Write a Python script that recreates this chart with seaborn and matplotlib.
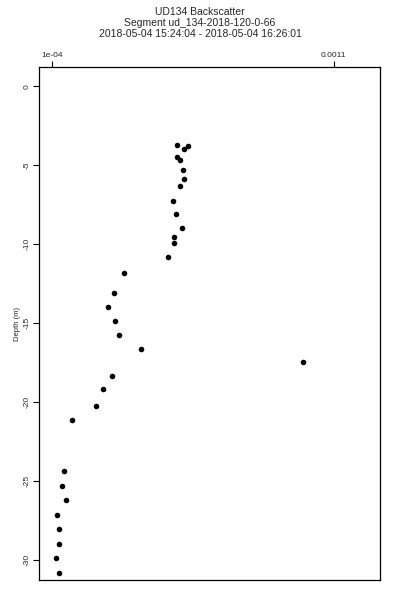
import numpy as np
import pandas as pd
import matplotlib
matplotlib.use("Agg")
import matplotlib.pyplot as plt
import seaborn as sns

# Backscatter values, with depth (m)
backscatter = [0.000545, 0.000582, 0.000570, 0.000545, 0.000554, 0.000567, 0.000570,
               0.000556, 0.000531, 0.000540, 0.000561, 0.000535, 0.000534, 0.000513,
               0.000355, 0.000322, 0.000300, 0.000326, 0.000340, 0.000416, 0.000990,
               0.000313, 0.000282, 0.000257, 0.000170, 0.000143, 0.000135, 0.000150,
               0.000120, 0.000126, 0.000127, 0.000115, 0.000127]
depth = [-3.72, -3.76, -3.95, -4.46, -4.65, -5.30, -5.85,
         -6.31, -7.24, -8.10, -8.99, -9.56, -9.90, -10.78,
         -11.84, -13.08, -13.99, -14.87, -15.72, -16.61, -17.47,
         -18.32, -19.18, -20.25, -21.12, -24.37, -25.28, -26.20,
         -27.13, -28.04, -28.97, -29.87, -30.80]
x_ticks = [1e-04, 0.0011]
x_tick_labels = ["1e-04", "0.0011"]
y_ticks = [0, -5, -10, -15, -20, -25, -30]
title_lines = ["UD134 Backscatter", "Segment ud_134-2018-120-0-66",
               "2018-05-04 15:24:04 - 2018-05-04 16:26:01"]

frame = pd.DataFrame({"backscatter": backscatter, "depth": depth})

sns.set_theme(style="white")
plt.rcParams["font.family"] = ["Liberation Sans", "DejaVu Sans"]

fig = plt.figure(figsize=(4, 6), dpi=100)
ax = fig.add_axes([0.097, 0.033, 0.852, 0.855])

sns.scatterplot(x="backscatter", y="depth", data=frame, color="black",
                s=16, edgecolor="black", linewidth=0, ax=ax)

ax.set_xlim(5.39e-05, 0.001263)
ax.set_ylim(-31.27, 1.22)

# x axis drawn on top, as in the original
ax.xaxis.tick_top()
ax.set_xticks(x_ticks)
ax.set_xticklabels(x_tick_labels)
ax.set_yticks(y_ticks)
ax.set_yticklabels([str(t) for t in y_ticks], rotation=90, va="center")
ax.tick_params(axis="both", direction="out", length=4, width=0.8, color="black",
               labelsize=6, pad=2, top=True, bottom=False, left=True)
ax.set_xlabel("")
ax.set_ylabel("Depth (m)", fontsize=5.5, labelpad=2)

for spine in ax.spines.values():
    spine.set_color("black")
    spine.set_linewidth(0.9)

for i, line in enumerate(title_lines):
    fig.text(0.5, 0.988 - i * 0.0185, line, ha="center", va="top", fontsize=7.5)

fig.savefig("out.png", dpi=100)
